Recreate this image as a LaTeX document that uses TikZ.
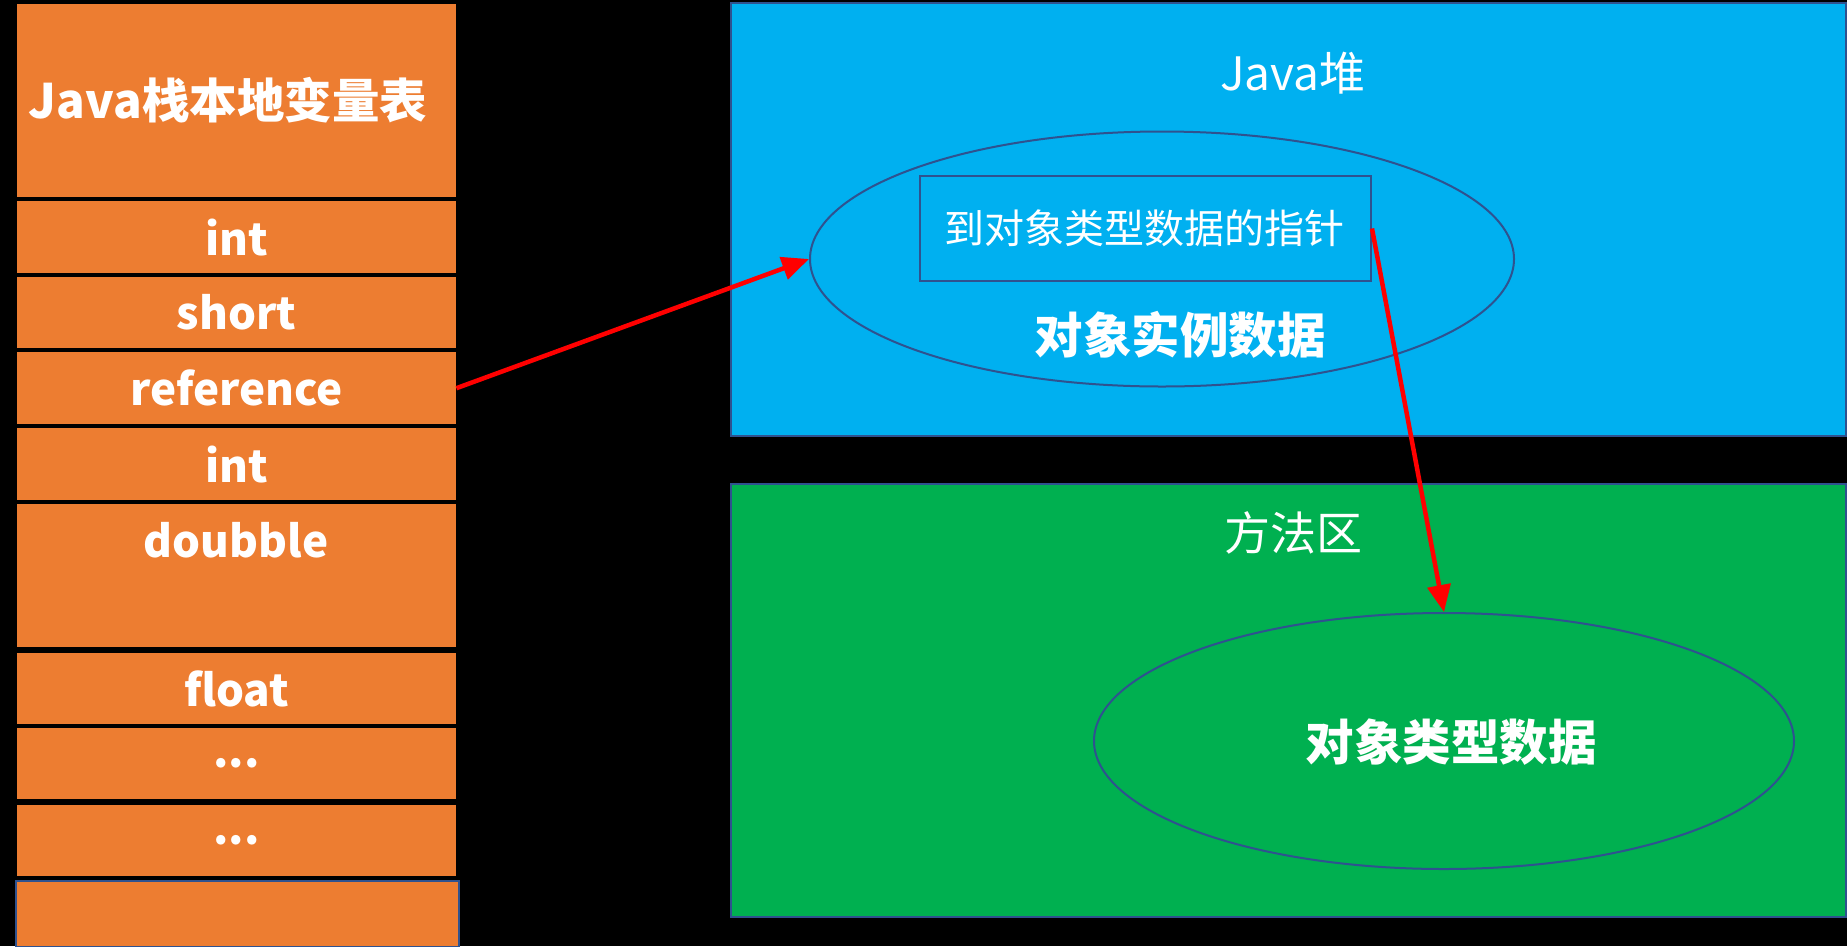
\documentclass[tikz,border=0pt]{standalone}
\usepackage{fontspec}
\setmainfont{Noto Sans CJK SC}
\usetikzlibrary{shapes.geometric,arrows.meta}
\definecolor{orng}{HTML}{ED7D31}
\definecolor{skyb}{HTML}{00B0F0}
\definecolor{grn}{HTML}{00B050}
\definecolor{edgeb}{HTML}{2F528F}
\definecolor{arrred}{HTML}{FF0000}
\tikzset{
  row/.style={fill=orng, draw=none, anchor=north west, minimum width=439pt, inner sep=0pt, text=white, font=\fontsize{44}{48}\selectfont\bfseries},
  area/.style={draw=edgeb, line width=2pt, anchor=north west, inner sep=0pt},
  oval/.style={ellipse, draw=edgeb, line width=2pt, inner sep=0pt},
  wtxt/.style={text=white, inner sep=0pt},
  refarrow/.style={draw=arrred, line width=4.5pt, -{Triangle[length=27pt,width=23pt]}}
}
\begin{document}
\begin{tikzpicture}[x=1pt,y=-1pt]
\fill[black] (0,0) rectangle (1847,946);
\useasboundingbox (0,0) rectangle (1847,946);
% left column
\node[row, minimum height=193pt] (title) at (17,4) {};
\node[wtxt, font=\fontsize{47.5}{52}\selectfont\bfseries] (titletext) at (228,100) {Java栈本地变量表};
\node[row, minimum height=72pt] (r1) at (17,201) {int};
\node[row, minimum height=71pt] (r2) at (17,277) {short};
\node[row, minimum height=72pt] (r3) at (17,352) {reference};
\node[row, minimum height=72pt] (r4) at (17,428) {int};
\node[row, minimum height=143pt] (r5) at (17,504) {};
\node[wtxt, font=\fontsize{44}{48}\selectfont\bfseries] (dbl) at (236,540) {doubble};
\node[row, minimum height=71pt] (r6) at (17,653) {float};
\node[row, minimum height=71pt] (r7) at (17,728) {...};
\node[row, minimum height=71pt] (r8) at (17,805) {...};
\node[row, draw=edgeb, line width=2pt, minimum width=443pt, minimum height=66pt] (r9) at (15,880) {};
% heap
\node[area, fill=skyb, minimum width=1115pt, minimum height=433pt] (heap) at (730,2) {};
\node[wtxt, font=\fontsize{46}{50}\selectfont] (heaplbl) at (1293,73) {Java堆};
\node[oval, minimum width=704pt, minimum height=255pt] (heapell) at (1162,259) {};
\node[area, minimum width=451pt, minimum height=105pt] (ptr) at (919,175) {};
\node[wtxt, font=\fontsize{40}{44}\selectfont] (ptrtxt) at (1144,228) {到对象类型数据的指针};
\node[wtxt, font=\fontsize{48.5}{52}\selectfont\bfseries] (inst) at (1180,335) {对象实例数据};
% method area
\node[area, fill=grn, minimum width=1115pt, minimum height=433pt] (meth) at (730,483) {};
\node[wtxt, font=\fontsize{46}{50}\selectfont] (methlbl) at (1293,533) {方法区};
\node[oval, minimum width=700pt, minimum height=256pt] (methell) at (1444,741) {};
\node[wtxt, font=\fontsize{48.5}{52}\selectfont\bfseries] (typedata) at (1451,742) {对象类型数据};
% arrows
\draw[refarrow] (r3.east) -- (heapell.west);
\draw[refarrow] (ptr.east) -- (methell.north);
\end{tikzpicture}
\end{document}
